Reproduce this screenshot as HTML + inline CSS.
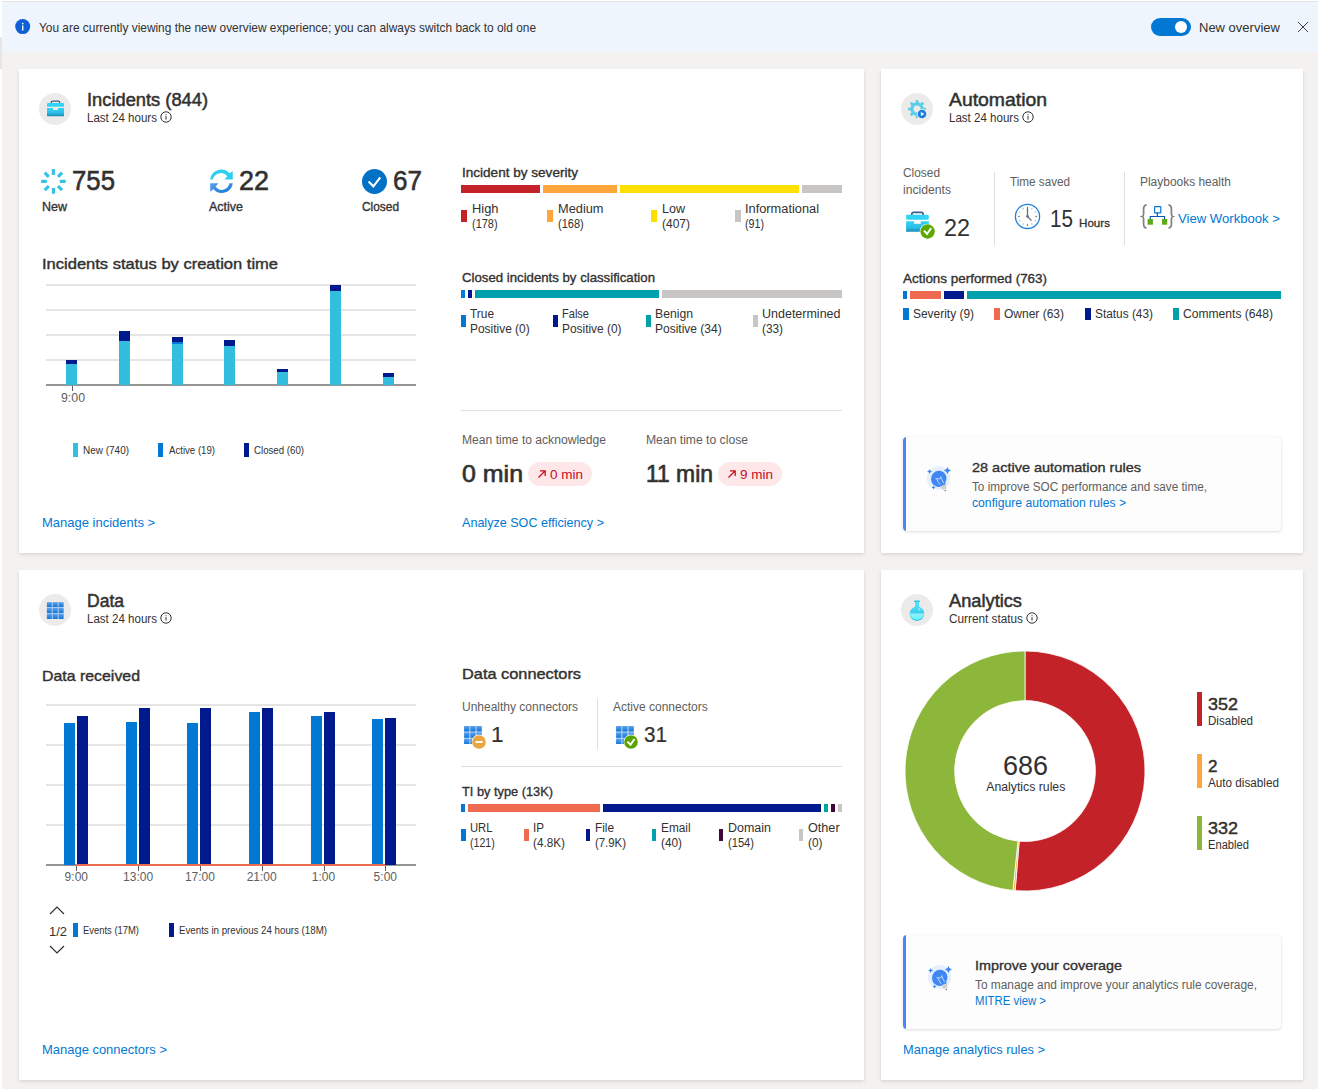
<!DOCTYPE html>
<html><head><meta charset="utf-8"><style>
html,body{margin:0;padding:0}
body{width:1318px;height:1089px;overflow:hidden;position:relative;background:#fff;font-family:"Liberation Sans",sans-serif}
.t{position:absolute;white-space:nowrap;line-height:1;transform-origin:0 0}
.card{position:absolute;background:#fff;box-shadow:0 1.6px 3.6px rgba(0,0,0,0.13),0 0.3px 0.9px rgba(0,0,0,0.11)}
</style></head><body>
<div style="position:absolute;left:2px;top:2px;width:1316px;height:1087px;background:#f3f2f1"></div>
<div style="position:absolute;left:2px;top:1px;width:1316px;height:1px;background:#e3e3e3"></div>
<div style="position:absolute;left:0;top:37px;width:2px;height:32px;background:#e8e6e4"></div>
<div style="position:absolute;left:2px;top:2px;width:1316px;height:50px;background:#eef5fd"></div>
<svg style="position:absolute;left:15px;top:19px" width="16" height="16" viewBox="0 0 16 16"><circle cx="7.7" cy="7.6" r="7.5" fill="#0f5fd7"/><rect x="7" y="6.5" width="1.4" height="5" fill="#fff"/><circle cx="7.7" cy="4.6" r="0.85" fill="#fff"/></svg>
<div style="position:absolute;left:1151px;top:18px;width:40px;height:18px;border-radius:9px;background:#0078d4"></div>
<div style="position:absolute;left:1175px;top:21px;width:12px;height:12px;border-radius:6px;background:#fff"></div>
<svg style="position:absolute;left:1297px;top:21px" width="12" height="12" viewBox="0 0 12 12"><path d="M1 1 L11 11 M11 1 L1 11" stroke="#323130" stroke-width="0.9"/></svg>
<div class="card" style="left:19px;top:69px;width:845px;height:484px"></div>
<div class="card" style="left:881px;top:69px;width:422px;height:484px"></div>
<div class="card" style="left:19px;top:570px;width:845px;height:510px"></div>
<div class="card" style="left:881px;top:570px;width:422px;height:510px"></div>
<svg style="position:absolute;left:160px;top:111px" width="12" height="12" viewBox="0 0 12 12"><circle cx="6" cy="6" r="5.2" fill="none" stroke="#323130" stroke-width="1"/><rect x="5.5" y="5" width="1" height="3.6" fill="#323130"/><rect x="5.5" y="3.2" width="1" height="1" fill="#323130"/></svg><div style="position:absolute;left:39px;top:93px;width:32px;height:32px;border-radius:50%;background:#edebe9"></div><svg style="position:absolute;left:1022px;top:111px" width="12" height="12" viewBox="0 0 12 12"><circle cx="6" cy="6" r="5.2" fill="none" stroke="#323130" stroke-width="1"/><rect x="5.5" y="5" width="1" height="3.6" fill="#323130"/><rect x="5.5" y="3.2" width="1" height="1" fill="#323130"/></svg><div style="position:absolute;left:901px;top:93px;width:32px;height:32px;border-radius:50%;background:#edebe9"></div><svg style="position:absolute;left:160px;top:612px" width="12" height="12" viewBox="0 0 12 12"><circle cx="6" cy="6" r="5.2" fill="none" stroke="#323130" stroke-width="1"/><rect x="5.5" y="5" width="1" height="3.6" fill="#323130"/><rect x="5.5" y="3.2" width="1" height="1" fill="#323130"/></svg><div style="position:absolute;left:39px;top:594px;width:32px;height:32px;border-radius:50%;background:#edebe9"></div><svg style="position:absolute;left:1026px;top:612px" width="12" height="12" viewBox="0 0 12 12"><circle cx="6" cy="6" r="5.2" fill="none" stroke="#323130" stroke-width="1"/><rect x="5.5" y="5" width="1" height="3.6" fill="#323130"/><rect x="5.5" y="3.2" width="1" height="1" fill="#323130"/></svg><div style="position:absolute;left:901px;top:594px;width:32px;height:32px;border-radius:50%;background:#edebe9"></div><div style="position:absolute;left:46px;top:284px;width:370px;height:2px;background:#e6e5e4;"></div><div style="position:absolute;left:46px;top:309px;width:370px;height:2px;background:#e6e5e4;"></div><div style="position:absolute;left:46px;top:334px;width:370px;height:2px;background:#e6e5e4;"></div><div style="position:absolute;left:46px;top:359px;width:370px;height:2px;background:#e6e5e4;"></div><div style="position:absolute;left:46px;top:384px;width:370px;height:2px;background:#979593;"></div><div style="position:absolute;left:72px;top:386px;width:1px;height:5px;background:#605e5c;"></div><div style="position:absolute;left:66px;top:360px;width:11px;height:4px;background:#001a8e;"></div><div style="position:absolute;left:66px;top:364px;width:11px;height:21px;background:#33bedf;"></div><div style="position:absolute;left:119px;top:331px;width:11px;height:10px;background:#001a8e;"></div><div style="position:absolute;left:119px;top:341px;width:11px;height:44px;background:#33bedf;"></div><div style="position:absolute;left:172px;top:337px;width:11px;height:5px;background:#001a8e;"></div><div style="position:absolute;left:172px;top:342px;width:11px;height:2px;background:#0078d4;"></div><div style="position:absolute;left:172px;top:344px;width:11px;height:41px;background:#33bedf;"></div><div style="position:absolute;left:224px;top:340px;width:11px;height:6px;background:#001a8e;"></div><div style="position:absolute;left:224px;top:346px;width:11px;height:39px;background:#33bedf;"></div><div style="position:absolute;left:277px;top:369px;width:11px;height:3px;background:#001a8e;"></div><div style="position:absolute;left:277px;top:372px;width:11px;height:13px;background:#33bedf;"></div><div style="position:absolute;left:330px;top:285px;width:11px;height:6px;background:#001a8e;"></div><div style="position:absolute;left:330px;top:291px;width:11px;height:94px;background:#33bedf;"></div><div style="position:absolute;left:383px;top:373px;width:11px;height:4px;background:#001a8e;"></div><div style="position:absolute;left:383px;top:377px;width:11px;height:8px;background:#33bedf;"></div><div style="position:absolute;left:73px;top:443px;width:5px;height:14px;background:#33bedf;"></div><div style="position:absolute;left:158px;top:443px;width:5px;height:14px;background:#0078d4;"></div><div style="position:absolute;left:244px;top:443px;width:5px;height:14px;background:#001a8e;"></div><div style="position:absolute;left:461px;top:185px;width:79px;height:8px;background:#c42229;"></div><div style="position:absolute;left:543px;top:185px;width:74px;height:8px;background:#ffa53c;"></div><div style="position:absolute;left:620px;top:185px;width:179px;height:8px;background:#fde000;"></div><div style="position:absolute;left:802px;top:185px;width:40px;height:8px;background:#c8c6c4;"></div><div style="position:absolute;left:461px;top:210px;width:6px;height:12px;background:#c42229;"></div><div style="position:absolute;left:547px;top:210px;width:6px;height:12px;background:#ffa53c;"></div><div style="position:absolute;left:651px;top:210px;width:6px;height:12px;background:#fde000;"></div><div style="position:absolute;left:735px;top:210px;width:6px;height:12px;background:#c8c6c4;"></div><div style="position:absolute;left:461px;top:290px;width:4px;height:8px;background:#0078d4;"></div><div style="position:absolute;left:468px;top:290px;width:4px;height:8px;background:#001a8e;"></div><div style="position:absolute;left:475px;top:290px;width:184px;height:8px;background:#00a1ac;"></div><div style="position:absolute;left:662px;top:290px;width:180px;height:8px;background:#c8c6c4;"></div><div style="position:absolute;left:461px;top:315px;width:5px;height:12px;background:#0078d4;"></div><div style="position:absolute;left:553px;top:315px;width:5px;height:12px;background:#001a8e;"></div><div style="position:absolute;left:646px;top:315px;width:5px;height:12px;background:#00a1ac;"></div><div style="position:absolute;left:753px;top:315px;width:5px;height:12px;background:#c8c6c4;"></div><div style="position:absolute;left:461px;top:410px;width:381px;height:1px;background:#e1dfdd;"></div><div style="position:absolute;left:528px;top:462px;width:64px;height:24px;border-radius:12px;background:#fde7e9"></div><svg style="position:absolute;left:537px;top:469px" width="10" height="10" viewBox="0 0 10 10"><path d="M1.5 8.5 L8 2 M3 1.8 H8.2 V7" fill="none" stroke="#c50f1f" stroke-width="1.3"/></svg><div style="position:absolute;left:718px;top:462px;width:64px;height:24px;border-radius:12px;background:#fde7e9"></div><svg style="position:absolute;left:727px;top:469px" width="10" height="10" viewBox="0 0 10 10"><path d="M1.5 8.5 L8 2 M3 1.8 H8.2 V7" fill="none" stroke="#c50f1f" stroke-width="1.3"/></svg><div style="position:absolute;left:994px;top:172px;width:1px;height:73px;background:#e1dfdd;"></div><div style="position:absolute;left:1124px;top:172px;width:1px;height:73px;background:#e1dfdd;"></div><div style="position:absolute;left:903px;top:291px;width:4px;height:8px;background:#0078d4;"></div><div style="position:absolute;left:910px;top:291px;width:31px;height:8px;background:#ee6a50;"></div><div style="position:absolute;left:944px;top:291px;width:20px;height:8px;background:#001a8e;"></div><div style="position:absolute;left:967px;top:291px;width:314px;height:8px;background:#00a1ac;"></div><div style="position:absolute;left:903px;top:308px;width:6px;height:12px;background:#0078d4;"></div><div style="position:absolute;left:994px;top:308px;width:6px;height:12px;background:#ee6a50;"></div><div style="position:absolute;left:1085px;top:308px;width:6px;height:12px;background:#001a8e;"></div><div style="position:absolute;left:1173px;top:308px;width:6px;height:12px;background:#00a1ac;"></div><div style="position:absolute;left:903px;top:437px;width:378px;height:94px;background:#fdfdfd;border-radius:4px;box-shadow:0 1px 3px rgba(0,0,0,0.13),0 0 1px rgba(0,0,0,0.08);overflow:hidden"><div style="position:absolute;left:0;top:0;width:3px;height:94px;background:#4a86f7"></div></div><div style="position:absolute;left:46px;top:704px;width:370px;height:2px;background:#e6e5e4;"></div><div style="position:absolute;left:46px;top:744px;width:370px;height:2px;background:#e6e5e4;"></div><div style="position:absolute;left:46px;top:784px;width:370px;height:2px;background:#e6e5e4;"></div><div style="position:absolute;left:46px;top:824px;width:370px;height:2px;background:#e6e5e4;"></div><div style="position:absolute;left:46px;top:864px;width:370px;height:2px;background:#979593;"></div><div style="position:absolute;left:64px;top:723px;width:11px;height:142px;background:#0078d4;"></div><div style="position:absolute;left:77px;top:716px;width:11px;height:149px;background:#001a8e;"></div><div style="position:absolute;left:126px;top:722px;width:11px;height:143px;background:#0078d4;"></div><div style="position:absolute;left:139px;top:708px;width:11px;height:157px;background:#001a8e;"></div><div style="position:absolute;left:187px;top:723px;width:11px;height:142px;background:#0078d4;"></div><div style="position:absolute;left:200px;top:708px;width:11px;height:157px;background:#001a8e;"></div><div style="position:absolute;left:249px;top:712px;width:11px;height:153px;background:#0078d4;"></div><div style="position:absolute;left:262px;top:708px;width:11px;height:157px;background:#001a8e;"></div><div style="position:absolute;left:311px;top:716px;width:11px;height:149px;background:#0078d4;"></div><div style="position:absolute;left:324px;top:712px;width:11px;height:153px;background:#001a8e;"></div><div style="position:absolute;left:372px;top:719px;width:11px;height:146px;background:#0078d4;"></div><div style="position:absolute;left:385px;top:718px;width:11px;height:147px;background:#001a8e;"></div><div style="position:absolute;left:76px;top:864px;width:309px;height:2px;background:#ee6a50;"></div><div style="position:absolute;left:76px;top:866px;width:1px;height:5px;background:#605e5c;"></div><div style="position:absolute;left:138px;top:866px;width:1px;height:5px;background:#605e5c;"></div><div style="position:absolute;left:200px;top:866px;width:1px;height:5px;background:#605e5c;"></div><div style="position:absolute;left:262px;top:866px;width:1px;height:5px;background:#605e5c;"></div><div style="position:absolute;left:324px;top:866px;width:1px;height:5px;background:#605e5c;"></div><div style="position:absolute;left:385px;top:866px;width:1px;height:5px;background:#605e5c;"></div><svg style="position:absolute;left:49px;top:906px" width="16" height="9" viewBox="0 0 16 9"><path d="M1 8 L8 1 L15 8" fill="none" stroke="#323130" stroke-width="1.2"/></svg><svg style="position:absolute;left:49px;top:945px" width="16" height="9" viewBox="0 0 16 9"><path d="M1 1 L8 8 L15 1" fill="none" stroke="#323130" stroke-width="1.2"/></svg><div style="position:absolute;left:73px;top:923px;width:5px;height:14px;background:#0078d4;"></div><div style="position:absolute;left:169px;top:923px;width:5px;height:14px;background:#001a8e;"></div><div style="position:absolute;left:597px;top:699px;width:1px;height:50px;background:#e1dfdd;"></div><div style="position:absolute;left:461px;top:766px;width:381px;height:1px;background:#e1dfdd;"></div><div style="position:absolute;left:461px;top:804px;width:4px;height:8px;background:#0078d4;"></div><div style="position:absolute;left:468px;top:804px;width:132px;height:8px;background:#ee6a50;"></div><div style="position:absolute;left:603px;top:804px;width:218px;height:8px;background:#001a8e;"></div><div style="position:absolute;left:824px;top:804px;width:4px;height:8px;background:#00a1ac;"></div><div style="position:absolute;left:831px;top:804px;width:4px;height:8px;background:#3d0a3a;"></div><div style="position:absolute;left:838px;top:804px;width:4px;height:8px;background:#c8c6c4;"></div><div style="position:absolute;left:461px;top:829px;width:5px;height:12px;background:#0078d4;"></div><div style="position:absolute;left:524px;top:829px;width:5px;height:12px;background:#ee6a50;"></div><div style="position:absolute;left:586px;top:829px;width:4px;height:12px;background:#001a8e;"></div><div style="position:absolute;left:652px;top:829px;width:4px;height:12px;background:#00a1ac;"></div><div style="position:absolute;left:719px;top:829px;width:4px;height:12px;background:#3d0a3a;"></div><div style="position:absolute;left:799px;top:829px;width:4px;height:12px;background:#c8c6c4;"></div><div style="position:absolute;left:1197px;top:692px;width:5px;height:34px;background:#c42229;"></div><div style="position:absolute;left:1197px;top:754px;width:5px;height:34px;background:#ffa53c;"></div><div style="position:absolute;left:1197px;top:816px;width:5px;height:34px;background:#8bb63a;"></div><div style="position:absolute;left:903px;top:935px;width:378px;height:94px;background:#fdfdfd;border-radius:4px;box-shadow:0 1px 3px rgba(0,0,0,0.13),0 0 1px rgba(0,0,0,0.08);overflow:hidden"><div style="position:absolute;left:0;top:0;width:3px;height:94px;background:#4a86f7"></div></div>
<svg style="position:absolute;left:0px;top:0px" width="1" height="1" viewBox="0 0 1 1"><defs>
<linearGradient id="gbc" x1="0" y1="0" x2="0" y2="1"><stop offset="0" stop-color="#32d4f5"/><stop offset="0.6" stop-color="#2bbde6"/><stop offset="1" stop-color="#198ab3"/></linearGradient>
<linearGradient id="ggrid" x1="0" y1="0" x2="0" y2="1"><stop offset="0" stop-color="#5ea0ef"/><stop offset="1" stop-color="#0f78d4"/></linearGradient>
<linearGradient id="gflask" x1="0" y1="0" x2="0" y2="1"><stop offset="0" stop-color="#50e6ff"/><stop offset="1" stop-color="#32bedd"/></linearGradient>
<linearGradient id="gflask2" x1="0" y1="0" x2="0" y2="1"><stop offset="0" stop-color="#9cebf9"/><stop offset="1" stop-color="#5efbfe"/></linearGradient>
<linearGradient id="grefb" x1="0" y1="0" x2="1" y2="1"><stop offset="0" stop-color="#5ea0ef"/><stop offset="1" stop-color="#0f78d4"/></linearGradient>
</defs></svg>
<svg style="position:absolute;left:39px;top:93px" width="32" height="32" viewBox="0 0 32 32"><g transform="translate(8,7.5) scale(1.0,1.0)">
<path d="M4.3 2.8 V1.9 Q4.3 0.65 5.6 0.65 H11.4 Q12.7 0.65 12.7 1.9 V2.8" fill="none" stroke="#3e5f8e" stroke-width="1.3"/>
<rect x="0" y="2.5" width="17" height="3.8" rx="0.9" fill="#32d4f5"/>
<path d="M0 7.4 H6 V9.5 H11 V7.4 H17 V15.7 H0 Z" fill="url(#gbc)"/>
</g></svg>
<svg style="position:absolute;left:901px;top:93px" width="32" height="32" viewBox="0 0 32 32"><path d="M14.38 9.60 L14.84 7.08 L17.16 7.08 L17.62 9.60 L19.38 10.33 L21.49 8.87 L23.13 10.51 L21.67 12.62 L22.40 14.38 L24.92 14.84 L24.92 17.16 L22.40 17.62 L21.67 19.38 L23.13 21.49 L21.49 23.13 L19.38 21.67 L17.62 22.40 L17.16 24.92 L14.84 24.92 L14.38 22.40 L12.62 21.67 L10.51 23.13 L8.87 21.49 L10.33 19.38 L9.60 17.62 L7.08 17.16 L7.08 14.84 L9.60 14.38 L10.33 12.62 L8.87 10.51 L10.51 8.87 L12.62 10.33 Z M16 12.6 A3.4 3.4 0 1 0 16 19.4 A3.4 3.4 0 1 0 16 12.6 Z" fill="#5ccfea" fill-rule="evenodd"/>
<circle cx="21" cy="21" r="5.2" fill="#edebe9"/><circle cx="21" cy="21" r="4.3" fill="#1f7fe0"/><path d="M19.9 18.9 L23.2 21 L19.9 23.1 Z" fill="#fff"/></svg>
<svg style="position:absolute;left:39px;top:594px" width="32" height="32" viewBox="0 0 32 32"><rect x="7.9" y="8.2" width="16.6" height="16.8" fill="#a9c8ef" rx="1"/><rect x="7.90" y="8.20" width="4.9" height="4.9" fill="url(#ggrid)" rx="0.4"/><rect x="13.80" y="8.20" width="4.9" height="4.9" fill="url(#ggrid)" rx="0.4"/><rect x="19.70" y="8.20" width="4.9" height="4.9" fill="url(#ggrid)" rx="0.4"/><rect x="7.90" y="14.10" width="4.9" height="4.9" fill="url(#ggrid)" rx="0.4"/><rect x="13.80" y="14.10" width="4.9" height="4.9" fill="url(#ggrid)" rx="0.4"/><rect x="19.70" y="14.10" width="4.9" height="4.9" fill="url(#ggrid)" rx="0.4"/><rect x="7.90" y="20.00" width="4.9" height="4.9" fill="url(#ggrid)" rx="0.4"/><rect x="13.80" y="20.00" width="4.9" height="4.9" fill="url(#ggrid)" rx="0.4"/><rect x="19.70" y="20.00" width="4.9" height="4.9" fill="url(#ggrid)" rx="0.4"/></svg>
<svg style="position:absolute;left:901px;top:594px" width="32" height="32" viewBox="0 0 32 32"><rect x="13" y="6.4" width="6" height="1.7" rx="0.8" fill="#32bedd"/>
<path d="M14 8 H18 V12.8 A7.2 7.2 0 1 1 14 12.8 Z" fill="url(#gflask)"/>
<path d="M8.85 19.4 H23.15 A7.2 7.2 0 0 1 8.85 19.4 Z" fill="url(#gflask2)"/>
<circle cx="18.5" cy="15.5" r="0.8" fill="#c3f5ff"/><circle cx="17.5" cy="14.4" r="0.5" fill="#c3f5ff"/></svg>
<svg style="position:absolute;left:40px;top:168px" width="28" height="28" viewBox="0 0 28 28"><g transform="translate(13.4,13.4)"><rect x="-1.6" y="-12.3" width="3.2" height="5.8" rx="0.4" fill="#33c3e6" transform="rotate(0)"/><rect x="-1.6" y="-12.3" width="3.2" height="5.8" rx="0.4" fill="#33c3e6" transform="rotate(45)"/><rect x="-1.6" y="-12.3" width="3.2" height="5.8" rx="0.4" fill="#33c3e6" transform="rotate(90)"/><rect x="-1.6" y="-12.3" width="3.2" height="5.8" rx="0.4" fill="#33c3e6" transform="rotate(135)"/><rect x="-1.6" y="-12.3" width="3.2" height="5.8" rx="0.4" fill="#33c3e6" transform="rotate(180)"/><rect x="-1.6" y="-12.3" width="3.2" height="5.8" rx="0.4" fill="#33c3e6" transform="rotate(225)"/><rect x="-1.6" y="-12.3" width="3.2" height="5.8" rx="0.4" fill="#33c3e6" transform="rotate(270)"/><rect x="-1.6" y="-12.3" width="3.2" height="5.8" rx="0.4" fill="#33c3e6" transform="rotate(315)"/></g></svg>
<svg style="position:absolute;left:206px;top:167px" width="30" height="30" viewBox="0 0 30 30"><path d="M4.1 12.6 C4.8 6.8 9.8 2.6 15.6 2.6 C18.9 2.6 21.6 4.0 23.5 6.3 L26.7 4.0 L26.8 12.6 L18.3 12.6 L21.2 9.6 C19.8 7.4 17.8 6.1 15.5 6.1 C11.2 6.1 7.6 9.0 6.7 12.6 Z" fill="#2dcff0"/>
<path d="M4.1 16.2 L12.4 16.2 L9.6 19.5 C11.0 21.5 13.2 22.9 15.6 22.9 C19.6 22.9 22.7 20.1 23.4 16.3 L26.8 16.2 C26.1 21.8 21.4 26 15.6 26 C12.2 26 9.2 24.5 7.4 22 L4.3 24.7 Z" fill="url(#grefb)"/></svg>
<svg style="position:absolute;left:360px;top:167px" width="30" height="30" viewBox="0 0 30 30"><circle cx="14.5" cy="14.5" r="12.5" fill="#0072c6"/><path d="M8.6 14.6 L13.3 19.3 L20.3 10.4" fill="none" stroke="#fff" stroke-width="2.1"/></svg>
<svg style="position:absolute;left:903px;top:205px" width="36" height="36" viewBox="0 0 36 36"><g transform="translate(3.1,6.6) scale(1.335,1.29)">
<path d="M4.3 2.8 V1.9 Q4.3 0.65 5.6 0.65 H11.4 Q12.7 0.65 12.7 1.9 V2.8" fill="none" stroke="#3e5f8e" stroke-width="1.3"/>
<rect x="0" y="2.5" width="17" height="3.8" rx="0.9" fill="#32d4f5"/>
<path d="M0 7.4 H6 V9.5 H11 V7.4 H17 V15.7 H0 Z" fill="url(#gbc)"/>
</g><circle cx="24.6" cy="26.5" r="7.8" fill="#fff"/><circle cx="24.6" cy="26.5" r="7.2" fill="#5aa800"/><path d="M21 25.7 L24 29 L28.2 23.1" fill="none" stroke="#fff" stroke-width="1.9"/></svg>
<svg style="position:absolute;left:1012px;top:202px" width="30" height="30" viewBox="0 0 30 30"><circle cx="15.5" cy="14.4" r="12.1" fill="#fff" stroke="#1f7fe0" stroke-width="1.3"/><g transform="translate(15.5,14.4)"><rect x="-0.5" y="-9.6" width="1" height="1.8" fill="#707070" transform="rotate(0)"/><circle cx="0" cy="-8.8" r="0.5" fill="#707070" transform="rotate(30)"/><circle cx="0" cy="-8.8" r="0.5" fill="#707070" transform="rotate(60)"/><rect x="-0.5" y="-9.6" width="1" height="1.8" fill="#707070" transform="rotate(90)"/><circle cx="0" cy="-8.8" r="0.5" fill="#707070" transform="rotate(120)"/><circle cx="0" cy="-8.8" r="0.5" fill="#707070" transform="rotate(150)"/><rect x="-0.5" y="-9.6" width="1" height="1.8" fill="#707070" transform="rotate(180)"/><circle cx="0" cy="-8.8" r="0.5" fill="#707070" transform="rotate(210)"/><circle cx="0" cy="-8.8" r="0.5" fill="#707070" transform="rotate(240)"/><rect x="-0.5" y="-9.6" width="1" height="1.8" fill="#707070" transform="rotate(270)"/><circle cx="0" cy="-8.8" r="0.5" fill="#707070" transform="rotate(300)"/><circle cx="0" cy="-8.8" r="0.5" fill="#707070" transform="rotate(330)"/></g><path d="M15.5 5.6 V14.4 L19.5 18.6" fill="none" stroke="#6e6e6e" stroke-width="1.3"/><circle cx="15.5" cy="14.4" r="1.3" fill="#6e6e6e"/></svg>
<svg style="position:absolute;left:1140px;top:202px" width="36" height="30" viewBox="0 0 36 30"><path d="M6.6 2.9 C4.3 3.2 3.6 4.6 3.6 7 V11.8 C3.6 13.3 3.2 14.2 2.3 14.5 C3.2 14.8 3.6 15.7 3.6 17.2 V22 C3.6 24.4 4.3 25.8 6.6 26" fill="none" stroke="#808080" stroke-width="1.7"/>
<path d="M28.4 2.9 C30.7 3.2 31.4 4.6 31.4 7 V11.8 C31.4 13.3 31.8 14.2 32.7 14.5 C31.8 14.8 31.4 15.7 31.4 17.2 V22 C31.4 24.4 30.7 25.8 28.4 26" fill="none" stroke="#808080" stroke-width="1.7"/>
<rect x="14.6" y="4.7" width="6.2" height="6.1" rx="0.6" fill="none" stroke="#0f74d0" stroke-width="1.2"/>
<path d="M17.3 10.8 V14.5 M10.3 17 V14.5 H24.5 V17" fill="none" stroke="#0a5bb0" stroke-width="1.2"/>
<rect x="7.6" y="17" width="5.3" height="5.7" fill="#5ea81a"/><rect x="22" y="17" width="5.2" height="5.7" fill="#5ea81a"/></svg>
<svg style="position:absolute;left:460px;top:722px" width="30" height="30" viewBox="0 0 30 30"><rect x="4.1" y="4.1" width="17.7" height="17.9" fill="#b5d3f5"/><rect x="4.10" y="4.10" width="5.2" height="5.3" fill="url(#ggrid)" rx="0.4"/><rect x="10.35" y="4.10" width="5.2" height="5.3" fill="url(#ggrid)" rx="0.4"/><rect x="16.60" y="4.10" width="5.2" height="5.3" fill="url(#ggrid)" rx="0.4"/><rect x="4.10" y="10.45" width="5.2" height="5.3" fill="url(#ggrid)" rx="0.4"/><rect x="10.35" y="10.45" width="5.2" height="5.3" fill="url(#ggrid)" rx="0.4"/><rect x="16.60" y="10.45" width="5.2" height="5.3" fill="url(#ggrid)" rx="0.4"/><rect x="4.10" y="16.80" width="5.2" height="5.3" fill="url(#ggrid)" rx="0.4"/><rect x="10.35" y="16.80" width="5.2" height="5.3" fill="url(#ggrid)" rx="0.4"/><rect x="16.60" y="16.80" width="5.2" height="5.3" fill="url(#ggrid)" rx="0.4"/><circle cx="19" cy="20" r="7.4" fill="#fff"/><circle cx="19" cy="20" r="6.8" fill="#eaa640"/><rect x="15.6" y="19" width="7" height="2" fill="#fff"/></svg>
<svg style="position:absolute;left:612px;top:722px" width="30" height="30" viewBox="0 0 30 30"><rect x="4.1" y="4.1" width="17.7" height="17.9" fill="#b5d3f5"/><rect x="4.10" y="4.10" width="5.2" height="5.3" fill="url(#ggrid)" rx="0.4"/><rect x="10.35" y="4.10" width="5.2" height="5.3" fill="url(#ggrid)" rx="0.4"/><rect x="16.60" y="4.10" width="5.2" height="5.3" fill="url(#ggrid)" rx="0.4"/><rect x="4.10" y="10.45" width="5.2" height="5.3" fill="url(#ggrid)" rx="0.4"/><rect x="10.35" y="10.45" width="5.2" height="5.3" fill="url(#ggrid)" rx="0.4"/><rect x="16.60" y="10.45" width="5.2" height="5.3" fill="url(#ggrid)" rx="0.4"/><rect x="4.10" y="16.80" width="5.2" height="5.3" fill="url(#ggrid)" rx="0.4"/><rect x="10.35" y="16.80" width="5.2" height="5.3" fill="url(#ggrid)" rx="0.4"/><rect x="16.60" y="16.80" width="5.2" height="5.3" fill="url(#ggrid)" rx="0.4"/><circle cx="19" cy="20" r="7.4" fill="#fff"/><circle cx="19" cy="20" r="6.8" fill="#57a300"/><path d="M15.4 19.6 L18.5 22.6 L22.5 17" fill="none" stroke="#fff" stroke-width="2"/></svg>
<svg style="position:absolute;left:923px;top:462px" width="32" height="32" viewBox="0 0 32 32"><circle cx="15.6" cy="16" r="11.8" fill="#e6f0fd"/>
<path d="M15.6 8.8 A7.4 7.4 0 0 1 22.4 19.9 L22.6 22.6 L16.6 25 A7.4 7.4 0 0 1 15.6 8.8 Z" fill="#3f87f5"/>
<path d="M17.4 24.2 L22.8 22.2 L23.6 26.6 L19.6 28 Z" fill="#d0d0d0"/>
<circle cx="22.3" cy="28.5" r="0.8" fill="#707070"/>
<path d="M13.6 17.2 L17.2 22.8 M17.6 14.8 L20.6 21.2 M12.6 16.6 L16.6 17 L18 14.6" fill="none" stroke="#cfe1fd" stroke-width="0.9"/>
<path d="M24.4 5.0 Q24.959999999999997 7.9399999999999995 27.9 8.5 Q24.959999999999997 9.06 24.4 12.0 Q23.84 9.06 20.9 8.5 Q23.84 7.9399999999999995 24.4 5.0 Z" fill="#3f87f5"/><path d="M6.6 6.9 Q7.016 9.084 9.2 9.5 Q7.016 9.916 6.6 12.1 Q6.183999999999999 9.916 3.9999999999999996 9.5 Q6.183999999999999 9.084 6.6 6.9 Z" fill="#3f87f5"/><path d="M10.5 23.6 Q10.804 25.196 12.4 25.5 Q10.804 25.804 10.5 27.4 Q10.196 25.804 8.6 25.5 Q10.196 25.196 10.5 23.6 Z" fill="#3f87f5"/></svg>
<svg style="position:absolute;left:924px;top:961px" width="32" height="32" viewBox="0 0 32 32"><circle cx="15.6" cy="16" r="11.8" fill="#e6f0fd"/>
<path d="M15.6 8.8 A7.4 7.4 0 0 1 22.4 19.9 L22.6 22.6 L16.6 25 A7.4 7.4 0 0 1 15.6 8.8 Z" fill="#3f87f5"/>
<path d="M17.4 24.2 L22.8 22.2 L23.6 26.6 L19.6 28 Z" fill="#d0d0d0"/>
<circle cx="22.3" cy="28.5" r="0.8" fill="#707070"/>
<path d="M13.6 17.2 L17.2 22.8 M17.6 14.8 L20.6 21.2 M12.6 16.6 L16.6 17 L18 14.6" fill="none" stroke="#cfe1fd" stroke-width="0.9"/>
<path d="M24.4 5.0 Q24.959999999999997 7.9399999999999995 27.9 8.5 Q24.959999999999997 9.06 24.4 12.0 Q23.84 9.06 20.9 8.5 Q23.84 7.9399999999999995 24.4 5.0 Z" fill="#3f87f5"/><path d="M6.6 6.9 Q7.016 9.084 9.2 9.5 Q7.016 9.916 6.6 12.1 Q6.183999999999999 9.916 3.9999999999999996 9.5 Q6.183999999999999 9.084 6.6 6.9 Z" fill="#3f87f5"/><path d="M10.5 23.6 Q10.804 25.196 12.4 25.5 Q10.804 25.804 10.5 27.4 Q10.196 25.804 8.6 25.5 Q10.196 25.196 10.5 23.6 Z" fill="#3f87f5"/></svg>
<svg style="position:absolute;left:904px;top:650px" width="242" height="242" viewBox="0 0 242 242"><path d="M121.000 1.000 A120 120 0 1 1 111.119 240.593 L115.203 191.161 A70.4 70.4 0 1 0 121.000 50.600 Z" fill="#c42229" stroke="#fff" stroke-width="0.8"/><path d="M111.119 240.593 A120 120 0 0 1 108.930 240.391 L113.919 191.043 A70.4 70.4 0 0 0 115.203 191.161 Z" fill="#ffaa44" stroke="#fff" stroke-width="0.8"/><path d="M108.930 240.391 A120 120 0 0 1 121.000 1.000 L121.000 50.600 A70.4 70.4 0 0 0 113.919 191.043 Z" fill="#8db73a" stroke="#fff" stroke-width="0.8"/></svg>
<div class="t" id="t0" style="left:39.00px;top:20.99px;font-size:13px;font-weight:400;color:#323130;transform:scaleX(0.9142)">You are currently viewing the new overview experience; you can always switch back to old one</div><div class="t" id="t1" style="left:1199.00px;top:20.99px;font-size:13px;font-weight:400;color:#323130;transform:none">New overview</div><div class="t" id="t2" style="left:87.00px;top:90.76px;font-size:18px;font-weight:400;-webkit-text-stroke:0.5px #323130;color:#323130;transform:scaleX(1.0161)">Incidents (844)</div><div class="t" id="t3" style="left:87.00px;top:111.84px;font-size:12px;font-weight:400;color:#323130;transform:scaleX(0.9626)">Last 24 hours</div><div class="t" id="t4" style="left:949.00px;top:90.76px;font-size:18px;font-weight:400;-webkit-text-stroke:0.5px #323130;color:#323130;transform:scaleX(1.0762)">Automation</div><div class="t" id="t5" style="left:949.00px;top:111.84px;font-size:12px;font-weight:400;color:#323130;transform:scaleX(0.9626)">Last 24 hours</div><div class="t" id="t6" style="left:87.00px;top:591.76px;font-size:18px;font-weight:400;-webkit-text-stroke:0.5px #323130;color:#323130;transform:scaleX(0.9729)">Data</div><div class="t" id="t7" style="left:87.00px;top:612.84px;font-size:12px;font-weight:400;color:#323130;transform:scaleX(0.9626)">Last 24 hours</div><div class="t" id="t8" style="left:949.00px;top:591.76px;font-size:18px;font-weight:400;-webkit-text-stroke:0.5px #323130;color:#323130;transform:scaleX(1.0134)">Analytics</div><div class="t" id="t9" style="left:949.00px;top:612.84px;font-size:12px;font-weight:400;color:#323130;transform:scaleX(0.9818)">Current status</div><div class="t" id="t10" style="left:72.00px;top:167.29px;font-size:28px;font-weight:400;-webkit-text-stroke:0.6px #323130;color:#323130;transform:scaleX(0.9204)">755</div><div class="t" id="t11" style="left:42.00px;top:199.99px;font-size:13px;font-weight:400;-webkit-text-stroke:0.35px #323130;color:#323130;transform:scaleX(0.9610)">New</div><div class="t" id="t12" style="left:239.00px;top:167.29px;font-size:28px;font-weight:400;-webkit-text-stroke:0.6px #323130;color:#323130;transform:scaleX(0.9629)">22</div><div class="t" id="t13" style="left:209.00px;top:199.99px;font-size:13px;font-weight:400;-webkit-text-stroke:0.35px #323130;color:#323130;transform:scaleX(0.9603)">Active</div><div class="t" id="t14" style="left:393.00px;top:167.29px;font-size:28px;font-weight:400;-webkit-text-stroke:0.6px #323130;color:#323130;transform:scaleX(0.9308)">67</div><div class="t" id="t15" style="left:362.00px;top:199.99px;font-size:13px;font-weight:400;-webkit-text-stroke:0.35px #323130;color:#323130;transform:scaleX(0.9143)">Closed</div><div class="t" id="t16" style="left:42.00px;top:255.80px;font-size:15px;font-weight:400;-webkit-text-stroke:0.41px #323130;color:#323130;transform:scaleX(1.1014)">Incidents status by creation time</div><div class="t" id="t17" style="left:61.00px;top:391.54px;font-size:12px;font-weight:400;color:#605e5c;transform:scaleX(1.0274)">9:00</div><div class="t" id="t18" style="left:83.00px;top:444.99px;font-size:11px;font-weight:400;color:#323130;transform:scaleX(0.9064)">New (740)</div><div class="t" id="t19" style="left:169.00px;top:444.99px;font-size:11px;font-weight:400;color:#323130;transform:scaleX(0.8749)">Active (19)</div><div class="t" id="t20" style="left:254.00px;top:444.99px;font-size:11px;font-weight:400;color:#323130;transform:scaleX(0.8794)">Closed (60)</div><div class="t" id="t21" style="left:42.00px;top:515.99px;font-size:13px;font-weight:400;color:#0078d4;transform:none">Manage incidents ></div><div class="t" id="t22" style="left:462.00px;top:165.69px;font-size:13px;font-weight:400;-webkit-text-stroke:0.35px #323130;color:#323130;transform:scaleX(1.0424)">Incident by severity</div><div class="t" id="t23" style="left:472.00px;top:202.84px;font-size:12px;font-weight:400;color:#323130;transform:scaleX(1.0734)">High</div><div class="t" id="t24" style="left:472.00px;top:218.34px;font-size:12px;font-weight:400;color:#323130;transform:scaleX(0.9138)">(178)</div><div class="t" id="t25" style="left:557.50px;top:202.84px;font-size:12px;font-weight:400;color:#323130;transform:scaleX(1.0659)">Medium</div><div class="t" id="t26" style="left:557.50px;top:218.34px;font-size:12px;font-weight:400;color:#323130;transform:scaleX(0.9209)">(168)</div><div class="t" id="t27" style="left:662.00px;top:202.84px;font-size:12px;font-weight:400;color:#323130;transform:scaleX(1.0447)">Low</div><div class="t" id="t28" style="left:662.00px;top:218.34px;font-size:12px;font-weight:400;color:#323130;transform:none">(407)</div><div class="t" id="t29" style="left:745.00px;top:202.84px;font-size:12px;font-weight:400;color:#323130;transform:scaleX(1.0667)">Informational</div><div class="t" id="t30" style="left:745.00px;top:218.34px;font-size:12px;font-weight:400;color:#323130;transform:scaleX(0.8902)">(91)</div><div class="t" id="t31" style="left:462.00px;top:270.69px;font-size:13px;font-weight:400;-webkit-text-stroke:0.35px #323130;color:#323130;transform:scaleX(1.0155)">Closed incidents by classification</div><div class="t" id="t32" style="left:470.20px;top:307.84px;font-size:12px;font-weight:400;color:#323130;transform:scaleX(0.9903)">True</div><div class="t" id="t33" style="left:470.20px;top:323.34px;font-size:12px;font-weight:400;color:#323130;transform:scaleX(0.9945)">Positive (0)</div><div class="t" id="t34" style="left:561.50px;top:307.84px;font-size:12px;font-weight:400;color:#323130;transform:scaleX(0.9201)">False</div><div class="t" id="t35" style="left:561.50px;top:323.34px;font-size:12px;font-weight:400;color:#323130;transform:scaleX(0.9912)">Positive (0)</div><div class="t" id="t36" style="left:655.00px;top:307.84px;font-size:12px;font-weight:400;color:#323130;transform:scaleX(1.0167)">Benign</div><div class="t" id="t37" style="left:655.00px;top:323.34px;font-size:12px;font-weight:400;color:#323130;transform:none">Positive (34)</div><div class="t" id="t38" style="left:762.00px;top:307.84px;font-size:12px;font-weight:400;color:#323130;transform:scaleX(1.0415)">Undetermined</div><div class="t" id="t39" style="left:762.00px;top:323.34px;font-size:12px;font-weight:400;color:#323130;transform:scaleX(0.9839)">(33)</div><div class="t" id="t40" style="left:462.00px;top:433.84px;font-size:12px;font-weight:400;color:#605e5c;transform:scaleX(1.0088)">Mean time to acknowledge</div><div class="t" id="t41" style="left:646.00px;top:433.84px;font-size:12px;font-weight:400;color:#605e5c;transform:scaleX(1.0127)">Mean time to close</div><div class="t" id="t42" style="left:462.00px;top:462.38px;font-size:24px;font-weight:400;-webkit-text-stroke:0.68px #323130;color:#323130;transform:scaleX(1.0394)">0 min</div><div class="t" id="t43" style="left:646.00px;top:462.38px;font-size:24px;font-weight:400;-webkit-text-stroke:0.68px #323130;color:#323130;transform:scaleX(0.9535)">11 min</div><div class="t" id="t44" style="left:549.50px;top:468.84px;font-size:12px;font-weight:400;color:#c50f1f;transform:scaleX(1.1246)">0 min</div><div class="t" id="t45" style="left:739.50px;top:468.84px;font-size:12px;font-weight:400;color:#c50f1f;transform:scaleX(1.1246)">9 min</div><div class="t" id="t46" style="left:462.00px;top:515.99px;font-size:13px;font-weight:400;color:#0078d4;transform:scaleX(0.9672)">Analyze SOC efficiency ></div><div class="t" id="t47" style="left:903.00px;top:166.54px;font-size:12px;font-weight:400;color:#605e5c;transform:scaleX(0.9904)">Closed</div><div class="t" id="t48" style="left:903.00px;top:183.54px;font-size:12px;font-weight:400;color:#605e5c;transform:scaleX(1.0132)">incidents</div><div class="t" id="t49" style="left:944.00px;top:215.68px;font-size:24px;font-weight:400;color:#323130;transform:scaleX(0.9737)">22</div><div class="t" id="t50" style="left:1010.00px;top:175.64px;font-size:12px;font-weight:400;color:#605e5c;transform:scaleX(0.9744)">Time saved</div><div class="t" id="t51" style="left:1050.00px;top:208.03px;font-size:23px;font-weight:400;color:#323130;transform:scaleX(0.8987)">15</div><div class="t" id="t52" style="left:1079.00px;top:218.49px;font-size:11px;font-weight:400;-webkit-text-stroke:0.29px #323130;color:#323130;transform:scaleX(1.0564)">Hours</div><div class="t" id="t53" style="left:1140.00px;top:175.74px;font-size:12px;font-weight:400;color:#605e5c;transform:scaleX(0.9956)">Playbooks health</div><div class="t" id="t54" style="left:1178.00px;top:211.79px;font-size:13px;font-weight:400;color:#0078d4;transform:scaleX(1.0094)">View Workbook ></div><div class="t" id="t55" style="left:903.00px;top:271.99px;font-size:13px;font-weight:400;-webkit-text-stroke:0.35px #323130;color:#323130;transform:scaleX(1.0326)">Actions performed (763)</div><div class="t" id="t56" style="left:913.00px;top:307.84px;font-size:12px;font-weight:400;color:#323130;transform:scaleX(0.9941)">Severity (9)</div><div class="t" id="t57" style="left:1004.00px;top:307.84px;font-size:12px;font-weight:400;color:#323130;transform:none">Owner (63)</div><div class="t" id="t58" style="left:1095.00px;top:307.84px;font-size:12px;font-weight:400;color:#323130;transform:scaleX(0.9880)">Status (43)</div><div class="t" id="t59" style="left:1183.00px;top:307.84px;font-size:12px;font-weight:400;color:#323130;transform:scaleX(1.0070)">Comments (648)</div><div class="t" id="t60" style="left:972.00px;top:460.99px;font-size:13px;font-weight:400;-webkit-text-stroke:0.35px #323130;color:#323130;transform:scaleX(1.1136)">28 active automation rules</div><div class="t" id="t61" style="left:972.00px;top:480.84px;font-size:12px;font-weight:400;color:#605e5c;transform:scaleX(0.9787)">To improve SOC performance and save time,</div><div class="t" id="t62" style="left:972.00px;top:496.84px;font-size:12px;font-weight:400;color:#0078d4;transform:scaleX(1.0147)">configure automation rules ></div><div class="t" id="t63" style="left:42.00px;top:667.90px;font-size:15px;font-weight:400;-webkit-text-stroke:0.41px #323130;color:#323130;transform:scaleX(1.0587)">Data received</div><div class="t" id="t64" style="left:76.3px;top:871.44px;font-size:12px;font-weight:400;color:#605e5c;transform:translateX(-50%) ">9:00</div><div class="t" id="t65" style="left:138.1px;top:871.44px;font-size:12px;font-weight:400;color:#605e5c;transform:translateX(-50%) ">13:00</div><div class="t" id="t66" style="left:199.89999999999998px;top:871.44px;font-size:12px;font-weight:400;color:#605e5c;transform:translateX(-50%) ">17:00</div><div class="t" id="t67" style="left:261.7px;top:871.44px;font-size:12px;font-weight:400;color:#605e5c;transform:translateX(-50%) ">21:00</div><div class="t" id="t68" style="left:323.5px;top:871.44px;font-size:12px;font-weight:400;color:#605e5c;transform:translateX(-50%) ">1:00</div><div class="t" id="t69" style="left:385.3px;top:871.44px;font-size:12px;font-weight:400;color:#605e5c;transform:translateX(-50%) ">5:00</div><div class="t" id="t70" style="left:49.00px;top:924.99px;font-size:13px;font-weight:400;color:#323130;transform:scaleX(0.9957)">1/2</div><div class="t" id="t71" style="left:83.00px;top:925.19px;font-size:11px;font-weight:400;color:#323130;transform:scaleX(0.8560)">Events (17M)</div><div class="t" id="t72" style="left:179.00px;top:925.19px;font-size:11px;font-weight:400;color:#323130;transform:scaleX(0.8834)">Events in previous 24 hours (18M)</div><div class="t" id="t73" style="left:42.00px;top:1042.99px;font-size:13px;font-weight:400;color:#0078d4;transform:scaleX(0.9969)">Manage connectors ></div><div class="t" id="t74" style="left:462.00px;top:666.30px;font-size:15px;font-weight:400;-webkit-text-stroke:0.41px #323130;color:#323130;transform:scaleX(1.0894)">Data connectors</div><div class="t" id="t75" style="left:462.00px;top:701.04px;font-size:12px;font-weight:400;color:#605e5c;transform:none">Unhealthy connectors</div><div class="t" id="t76" style="left:613.00px;top:701.04px;font-size:12px;font-weight:400;color:#605e5c;transform:none">Active connectors</div><div class="t" id="t77" style="left:491.00px;top:723.85px;font-size:22.5px;font-weight:400;-webkit-text-stroke:0.2px #323130;color:#323130;transform:none">1</div><div class="t" id="t78" style="left:644.00px;top:723.85px;font-size:22.5px;font-weight:400;-webkit-text-stroke:0.2px #323130;color:#323130;transform:scaleX(0.9189)">31</div><div class="t" id="t79" style="left:462.00px;top:785.09px;font-size:13px;font-weight:400;-webkit-text-stroke:0.35px #323130;color:#323130;transform:scaleX(0.9839)">TI by type (13K)</div><div class="t" id="t80" style="left:470.00px;top:821.84px;font-size:12px;font-weight:400;color:#323130;transform:scaleX(0.9369)">URL</div><div class="t" id="t81" style="left:470.00px;top:837.34px;font-size:12px;font-weight:400;color:#323130;transform:scaleX(0.8852)">(121)</div><div class="t" id="t82" style="left:533.00px;top:821.84px;font-size:12px;font-weight:400;color:#323130;transform:scaleX(0.9697)">IP</div><div class="t" id="t83" style="left:533.00px;top:837.34px;font-size:12px;font-weight:400;color:#323130;transform:scaleX(0.9790)">(4.8K)</div><div class="t" id="t84" style="left:595.00px;top:821.84px;font-size:12px;font-weight:400;color:#323130;transform:scaleX(0.9822)">File</div><div class="t" id="t85" style="left:595.00px;top:837.34px;font-size:12px;font-weight:400;color:#323130;transform:scaleX(0.9484)">(7.9K)</div><div class="t" id="t86" style="left:661.00px;top:821.84px;font-size:12px;font-weight:400;color:#323130;transform:scaleX(0.9862)">Email</div><div class="t" id="t87" style="left:661.00px;top:837.34px;font-size:12px;font-weight:400;color:#323130;transform:scaleX(0.9839)">(40)</div><div class="t" id="t88" style="left:727.50px;top:821.84px;font-size:12px;font-weight:400;color:#323130;transform:scaleX(1.0397)">Domain</div><div class="t" id="t89" style="left:727.50px;top:837.34px;font-size:12px;font-weight:400;color:#323130;transform:scaleX(0.9281)">(154)</div><div class="t" id="t90" style="left:807.50px;top:821.84px;font-size:12px;font-weight:400;color:#323130;transform:scaleX(1.0528)">Other</div><div class="t" id="t91" style="left:807.50px;top:837.34px;font-size:12px;font-weight:400;color:#323130;transform:scaleX(0.9883)">(0)</div><div class="t" id="t92" style="left:1025.5px;top:753.14px;font-size:27px;font-weight:400;color:#323130;transform:translateX(-50%) ">686</div><div class="t" id="t93" style="left:1024.5px;top:781.44px;font-size:12px;font-weight:400;color:#323130;transform:translateX(-50%) scaleX(1.0210)">Analytics rules</div><div class="t" id="t94" style="left:1208.00px;top:696.21px;font-size:17px;font-weight:400;-webkit-text-stroke:0.47px #323130;color:#323130;transform:scaleX(1.0573)">352</div><div class="t" id="t95" style="left:1208.00px;top:714.84px;font-size:12px;font-weight:400;color:#323130;transform:scaleX(0.9635)">Disabled</div><div class="t" id="t96" style="left:1208.00px;top:758.21px;font-size:17px;font-weight:400;-webkit-text-stroke:0.47px #323130;color:#323130;transform:none">2</div><div class="t" id="t97" style="left:1208.00px;top:777.24px;font-size:12px;font-weight:400;color:#323130;transform:scaleX(0.9762)">Auto disabled</div><div class="t" id="t98" style="left:1208.00px;top:820.11px;font-size:17px;font-weight:400;-webkit-text-stroke:0.47px #323130;color:#323130;transform:scaleX(1.0573)">332</div><div class="t" id="t99" style="left:1208.00px;top:839.24px;font-size:12px;font-weight:400;color:#323130;transform:scaleX(0.9308)">Enabled</div><div class="t" id="t100" style="left:974.50px;top:958.99px;font-size:13px;font-weight:400;-webkit-text-stroke:0.35px #323130;color:#323130;transform:scaleX(1.1057)">Improve your coverage</div><div class="t" id="t101" style="left:974.50px;top:978.84px;font-size:12px;font-weight:400;color:#605e5c;transform:scaleX(0.9901)">To manage and improve your analytics rule coverage,</div><div class="t" id="t102" style="left:974.50px;top:994.84px;font-size:12px;font-weight:400;color:#0078d4;transform:scaleX(0.9465)">MITRE view ></div><div class="t" id="t103" style="left:903.00px;top:1042.99px;font-size:13px;font-weight:400;color:#0078d4;transform:scaleX(0.9849)">Manage analytics rules ></div>
</body></html>
